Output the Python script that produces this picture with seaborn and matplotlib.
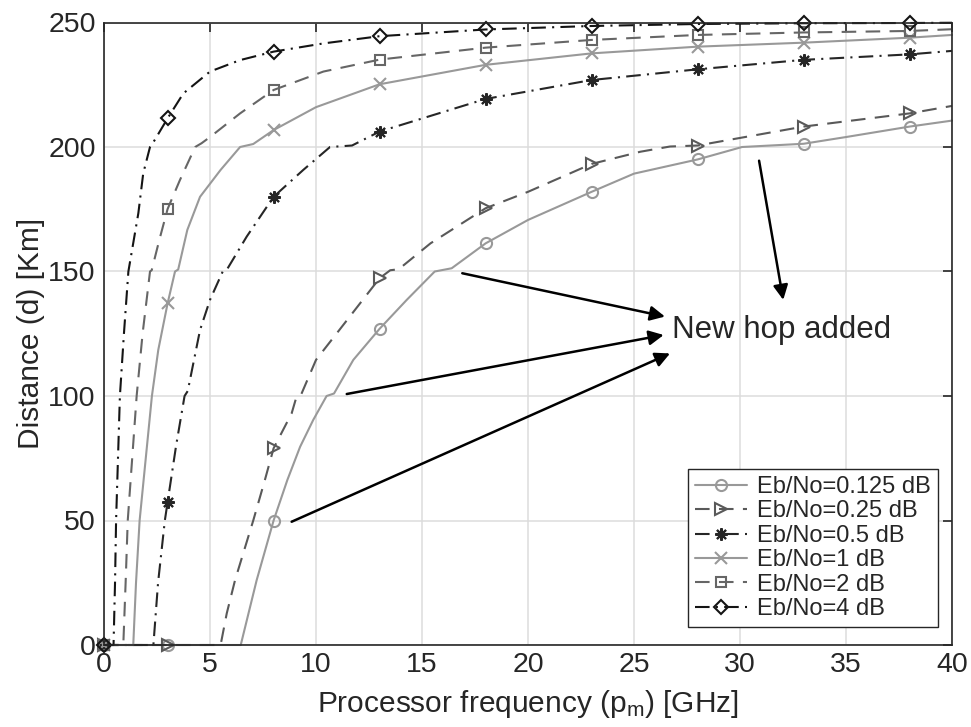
import matplotlib
matplotlib.use("Agg")
import matplotlib.pyplot as plt
import numpy as np
import pandas as pd
import seaborn as sns

# Reachable distance (Km) versus processor frequency (GHz) for each Eb/No setting.
freq_0125 = [0, 3, 6.45, 7.2, 8, 8.65, 9.25, 9.87, 10.5, 10.85, 11.76, 13, 14.28, 15.6, 16.4, 18,
             20, 23, 25, 28, 30.1, 33, 35, 38, 40]
dist_0125 = [0, 0, 0, 26, 50, 66.3, 79.6, 90.4, 100, 101, 114.5, 127, 138.6, 150, 151.3, 161.3,
             170.7, 182, 189.3, 195, 200, 201.3, 204, 208.2, 210.6]

freq_025 = [0, 3, 5.5, 5.79, 6.18, 7.04, 7.59, 8, 8.85, 9.09, 9.3, 10, 11.1, 13, 13.5, 13.9, 15.4, 18,
            20, 23, 25.3, 26.7, 28, 33, 38, 40]
dist_025 = [0, 0, 0, 12.7, 26, 50, 66.3, 79, 93, 100, 100.6, 114.5, 126.5, 147.3, 150.5, 150.9, 161.3, 175.4,
            182, 193.2, 198.1, 200.2, 200.6, 208.2, 213.5, 216.5]

freq_05 = [0, 2.33, 2.55, 2.87, 3, 3.4, 3.8, 3.95, 4.53, 5.0, 5.6, 5.8, 6.73, 8, 9.4,
           10.66, 11.7, 13, 18, 23, 28, 33, 38, 40]
dist_05 = [0, 0, 25, 50, 57.4, 80, 100, 102, 126.5, 138.6, 150, 150.8, 164, 180, 190.8,
           200, 200.6, 206.2, 219.3, 226.9, 231.2, 235, 237.2, 238.6]

freq_1 = [0, 1.38, 1.51, 1.68, 2.26, 2.56, 3, 3.35, 3.5, 3.93, 4.53, 5.5, 6.42, 7.04, 8,
          10, 13, 18, 23, 28, 33, 38, 40]
dist_1 = [0, 0, 25, 50, 100, 118.5, 137.2, 150, 150.8, 166.7, 180, 190.8, 200, 201.2, 206.8,
          216, 225.2, 233, 237.6, 240.3, 241.9, 243.9, 245]

freq_2 = [0, 0.91, 1.02, 1.12, 1.54, 1.82, 2.17, 2.25, 2.61, 3, 3.58, 4.3, 4.6, 5.0, 6.42,
          8, 10.35, 13, 18, 23, 28, 33, 38, 40]
dist_2 = [0, 0, 25, 50, 100, 125, 150, 150.5, 162.7, 175.1, 186.7, 200, 201.5, 204, 213.5,
          222.9, 230.3, 235.1, 239.9, 243, 245, 246, 246.6, 247.3]

freq_4 = [0, 0.45, 0.52, 0.57, 0.75, 0.94, 1.15, 1.62, 1.85, 2.17, 2.3, 3, 3.74, 5.0, 6.42,
          8, 10.35, 13, 18, 23, 28, 33, 38, 40]
dist_4 = [0, 0, 25, 50, 100, 125, 150, 173.4, 189.4, 200, 201.5, 211.5, 221.5, 230.3, 234.9,
          238.3, 241.6, 244.5, 247.2, 248.6, 249.4, 249.7, 249.8, 249.9]

series_labels = ["Eb/No=0.125 dB", "Eb/No=0.25 dB", "Eb/No=0.5 dB",
                 "Eb/No=1 dB", "Eb/No=2 dB", "Eb/No=4 dB"]
marker_freqs = [0, 3, 8, 13, 18, 23, 28, 33, 38]
x_ticks = [0, 5, 10, 15, 20, 25, 30, 35, 40]
y_ticks = [0, 50, 100, 150, 200, 250]

note_text = "New hop added"
note_pos = (26.8, 126.5)
arrow_tails = [(16.9, 149.3), (11.45, 100.8), (8.85, 49.5), (30.9, 194.5)]
arrow_heads = [(26.46, 131.9), (26.4, 124.5), (26.7, 117.1), (32.04, 138.6)]

freqs = [freq_0125, freq_025, freq_05, freq_1, freq_2, freq_4]
dists = [dist_0125, dist_025, dist_05, dist_1, dist_2, dist_4]

frames = []
for lab, f, d in zip(series_labels, freqs, dists):
    frames.append(pd.DataFrame({"freq": f, "dist": d, "snr": lab}))
df = pd.concat(frames, ignore_index=True)

dash = (0, (7, 4.5))
dashdot = (0, (7, 3, 1, 3))
styles = {
    "Eb/No=0.125 dB": dict(color="#999999", linestyle="-", marker="o", markersize=8),
    "Eb/No=0.25 dB": dict(color="#595959", linestyle=dash, marker=">", markersize=9),
    "Eb/No=0.5 dB": dict(color="#262626", linestyle=dashdot, marker=(8, 2, 0), markersize=9),
    "Eb/No=1 dB": dict(color="#999999", linestyle="-", marker="x", markersize=8),
    "Eb/No=2 dB": dict(color="#666666", linestyle=dash, marker="s", markersize=7),
    "Eb/No=4 dB": dict(color="#141414", linestyle=dashdot, marker="D", markersize=7),
}

sns.set_theme(style="white")
plt.rcParams["font.family"] = ["Liberation Sans", "DejaVu Sans"]
plt.rcParams["mathtext.fontset"] = "custom"
plt.rcParams["mathtext.rm"] = "Liberation Sans"
plt.rcParams["mathtext.it"] = "Liberation Sans:italic"
plt.rcParams["lines.scale_dashes"] = True

W, H = 971, 727
fig = plt.figure(figsize=(W / 100, H / 100), dpi=100)
ax = fig.add_axes([104 / W, 1 - 645 / H, 848 / W, 622.5 / H])

for lab in series_labels:
    sub = df[df["snr"] == lab].reset_index(drop=True)
    idx = [i for i, v in enumerate(sub["freq"]) if v in marker_freqs]
    st = styles[lab]
    sns.lineplot(data=sub, x="freq", y="dist", ax=ax, label=lab,
                 estimator=None, sort=False, linewidth=1.5,
                 markevery=idx, markerfacecolor="none",
                 markeredgecolor=st["color"], markeredgewidth=1.5,
                 clip_on=False, **st)

ax.set_xlim(0, 40)
ax.set_ylim(0, 250)
ax.set_xticks(x_ticks)
ax.set_yticks(y_ticks)
ax.grid(True, color="#dcdcdc", linewidth=1.1)
ax.set_axisbelow(True)
for sp in ax.spines.values():
    sp.set_color("#262626")
    sp.set_linewidth(1.2)
ax.tick_params(direction="in", length=6.5, width=1.2, top=True, right=True,
               labelsize=20.5, colors="#262626", labelcolor="#262626")
ax.tick_params(axis="x", pad=5)
ax.tick_params(axis="y", pad=6)

ax.set_xlabel("Processor frequency (p$_\\mathrm{m}$) [GHz]", fontsize=21.5,
              color="#262626", labelpad=7)
ax.set_ylabel("Distance (d) [Km]", fontsize=21.5, color="#262626", labelpad=2)

ax.text(note_pos[0], note_pos[1], note_text, fontsize=22.5, color="#262626",
        ha="left", va="center")
for tail, head in zip(arrow_tails, arrow_heads):
    ax.annotate("", xy=head, xytext=tail,
                arrowprops=dict(arrowstyle="-|>", color="black", lw=1.8,
                                mutation_scale=22, shrinkA=0, shrinkB=0))

leg = ax.legend(loc="lower right", bbox_to_anchor=((937.7 - 104) / 848, (645 - 627) / 622.5),
                fontsize=17, frameon=True, fancybox=False, framealpha=1,
                edgecolor="#262626", borderpad=0.3, labelspacing=0.1,
                handlelength=2.2, handletextpad=0.4, borderaxespad=0)
leg.get_frame().set_linewidth(1.0)

fig.savefig("out.png", dpi=100)
